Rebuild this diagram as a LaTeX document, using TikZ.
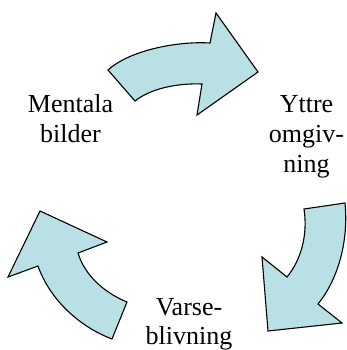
\documentclass[tikz,border=0pt]{standalone}
\usepackage{fontspec}
\setmainfont{Liberation Serif}
\definecolor{arrowfill}{RGB}{185,224,228}
\begin{document}
\begin{tikzpicture}[x=1pt,y=-1pt,
  cyc/.style={draw=black,fill=arrowfill,line width=1.1pt,line join=miter},
  lbl/.style={font=\fontsize{26}{30}\selectfont,align=center,inner sep=0pt,anchor=base}]
\useasboundingbox (0,0) rectangle (347,350);
% top arrow
\path[cyc] (108,70) .. controls (130,50) and (178,41) .. (210,43)
  -- (216,13) -- (258,72) -- (197,115) -- (202,84)
  .. controls (176,83) and (150,89) .. (135,101) -- cycle;
% right arrow
\path[cyc] (345,203) -- (304,209)
  .. controls (308,235) and (301,260) .. (287,277)
  -- (262,257) -- (268,331) -- (342,323) -- (318,304)
  .. controls (336,282) and (349,245) .. (345,203) -- cycle;
% left arrow
\path[cyc] (112,339) -- (127,302)
  .. controls (105,293) and (85,276) .. (78,253)
  -- (107,242) -- (40,211) -- (8,277) -- (38,266)
  .. controls (50,300) and (80,327) .. (112,339) -- cycle;
\node[lbl] (mb) at (70.5,142) {Mentala\\bilder};
\node[lbl] (yo) at (306.5,172) {Yttre\\omgiv-\\ning};
\node[lbl,font=\fontsize{26}{29}\selectfont] (vb) at (189,344) {Varse-\\blivning};
\end{tikzpicture}
\end{document}
